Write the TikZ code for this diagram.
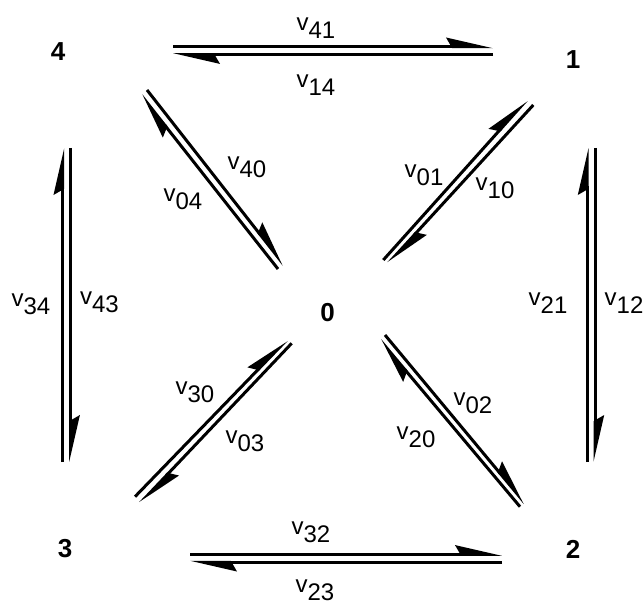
\documentclass[tikz,border=0pt]{standalone}
\usepackage{fontspec}
\setmainfont{Liberation Sans}
\usetikzlibrary{arrows.meta}
\newcommand{\rt}[1]{v\raisebox{-8pt}{#1}}
\begin{document}
\begin{tikzpicture}[x=1pt,y=-1pt,
  flow/.style={line width=3pt, -{Stealth[left,length=40pt,width=18pt,inset=5pt]}},
  state/.style={font=\fontsize{26}{26}\selectfont\bfseries, inner sep=0pt},
  rate/.style={font=\fontsize{24}{24}\selectfont, inner sep=0pt}]
\useasboundingbox (0,0) rectangle (643,604);
% states
\node[state] (n0) at (327.5,313) {0};
\node[state] (n1) at (573,60) {1};
\node[state] (n2) at (573,549) {2};
\node[state] (n3) at (65,549) {3};
\node[state] (n4) at (58,52) {4};
% connector end points
\coordinate (p41a) at (173,46.7);  \coordinate (p41b) at (493,46.7);
\coordinate (p14a) at (493,54.7);  \coordinate (p14b) at (173,54.7);
\coordinate (p32a) at (190,554.3); \coordinate (p32b) at (502,554.3);
\coordinate (p23a) at (502,562.3); \coordinate (p23b) at (190,562.3);
\coordinate (p34a) at (62.7,462);  \coordinate (p34b) at (62.7,148);
\coordinate (p43a) at (70.7,148);  \coordinate (p43b) at (70.7,462);
\coordinate (p21a) at (587,462);   \coordinate (p21b) at (587,148);
\coordinate (p12a) at (595,148);   \coordinate (p12b) at (595,462);
\coordinate (p01a) at (383.3,260); \coordinate (p01b) at (526.7,100);
\coordinate (p10a) at (533.3,105); \coordinate (p10b) at (388.3,263.3);
\coordinate (p40a) at (147,90);    \coordinate (p40b) at (284,265);
\coordinate (p04a) at (278,269);   \coordinate (p04b) at (141,95);
\coordinate (p30a) at (135,496.7); \coordinate (p30b) at (286.7,340);
\coordinate (p03a) at (291.7,343.3); \coordinate (p03b) at (140,503.3);
\coordinate (p02a) at (385,335);   \coordinate (p02b) at (525,503.3);
\coordinate (p20a) at (520,506.7); \coordinate (p20b) at (380,340);
% connectors
\foreach \c in {41,14,32,23,34,43,21,12,01,10,40,04,30,03,02,20}
  \draw[flow] (p\c a) -- (p\c b);
% rate labels
\node[rate] (l41) at (316,28) {\rt{41}};
\node[rate] (l14) at (316,85) {\rt{14}};
\node[rate] (l32) at (311,532) {\rt{32}};
\node[rate] (l23) at (315,590) {\rt{23}};
\node[rate] (l34) at (31,304) {\rt{34}};
\node[rate] (l43) at (99.5,302) {\rt{43}};
\node[rate] (l21) at (548,303) {\rt{21}};
\node[rate] (l12) at (624,303) {\rt{12}};
\node[rate] (l01) at (424,175) {\rt{01}};
\node[rate] (l10) at (495,188) {\rt{10}};
\node[rate] (l40) at (247,167) {\rt{40}};
\node[rate] (l04) at (183,199) {\rt{04}};
\node[rate] (l30) at (195,392) {\rt{30}};
\node[rate] (l03) at (245,441) {\rt{03}};
\node[rate] (l02) at (473,403) {\rt{02}};
\node[rate] (l20) at (416,437) {\rt{20}};
\end{tikzpicture}
\end{document}
